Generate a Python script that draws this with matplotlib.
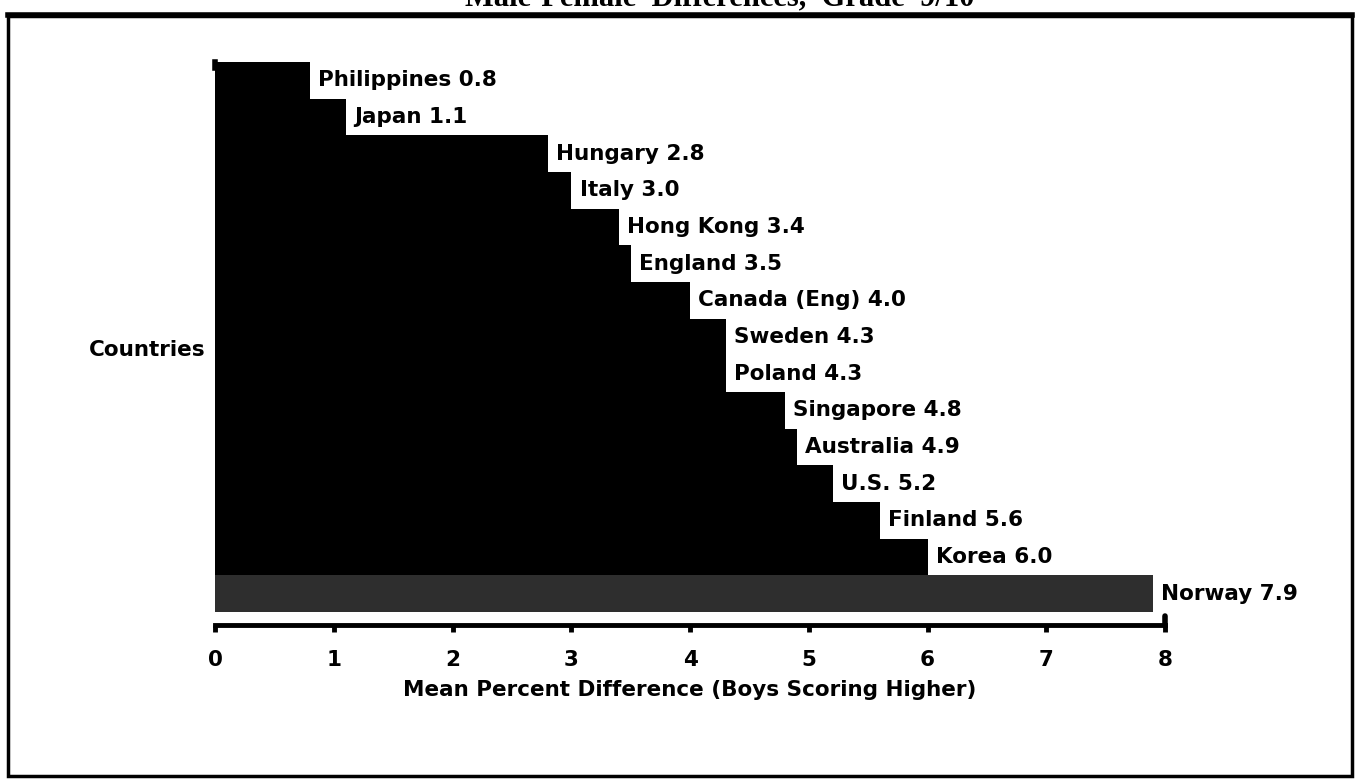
import numpy as np
import matplotlib.pyplot as plt
from matplotlib.patches import Rectangle

# Data
countries = ["Philippines", "Japan", "Hungary", "Italy", "Hong Kong", "England",
             "Canada (Eng)", "Sweden", "Poland", "Singapore", "Australia", "U.S.",
             "Finland", "Korea", "Norway"]
values = [0.8, 1.1, 2.8, 3.0, 3.4, 3.5, 4.0, 4.3, 4.3, 4.8, 4.9, 5.2, 5.6, 6.0, 7.9]
bar_colors = ["black"] * 14 + ["#2e2e2e"]
x_ticks = [0, 1, 2, 3, 4, 5, 6, 7, 8]

W, H = 1359, 782
fig = plt.figure(figsize=(W / 100, H / 100), dpi=100)
fig.patch.set_facecolor("white")

# axes placed in pixel coords: x 0..8 -> 215..1165, y from 62 (top bar) to 625 (axis line)
ax_l, ax_r, ax_t, ax_b = 215, 1165, 62, 625
ax = fig.add_axes([ax_l / W, 1 - ax_b / H, (ax_r - ax_l) / W, (ax_b - ax_t) / H])

n = len(countries)
ypos = np.arange(n)
gap = 13 / ((612 - 62) / n)  # white strip between last bar and axis line
ax.barh(ypos, values, height=1.0, color=bar_colors, edgecolor="none", align="center")
ax.set_ylim(n - 0.5 + gap, -0.5)
ax.set_xlim(0, 8)

lab_font = dict(family="DejaVu Sans", fontweight="bold", fontsize=15.5)
for y, name, v in zip(ypos, countries, values):
    ax.text(v + 0.07, y, f"{name} {v:.1f}", va="center", ha="left", **lab_font)

for s in ["top", "right", "left"]:
    ax.spines[s].set_visible(False)
ax.spines["bottom"].set_linewidth(3.5)
ax.set_yticks([])
ax.set_xticks(x_ticks)
ax.set_xticklabels([str(t) for t in x_ticks], **lab_font)
ax.tick_params(axis="x", length=5, width=3.5, pad=13)
ax.set_xlabel("Mean Percent Difference (Boys Scoring Higher)", labelpad=7, **lab_font)

# end cap on the axis line
ax.plot([8, 8], [n - 0.5 + gap - 0.25, n - 0.5 + gap], color="black", lw=4,
        solid_capstyle="round", clip_on=False)
ax.plot([0, 0], [-0.5, -0.35], color="black", lw=4, clip_on=False)

fig.text(206 / W, 1 - 350 / H, "Countries", ha="right", va="center", **lab_font)

# frame around the page
fig.patches.append(Rectangle((8 / W, 1 - 776 / H), (1352 - 8) / W, (776 - 16) / H,
                             transform=fig.transFigure, fill=False, lw=2.5,
                             edgecolor="black"))
fig.add_artist(plt.Line2D([8 / W, 1352 / W], [1 - 15 / H, 1 - 15 / H],
                          transform=fig.transFigure, color="black", lw=4))

# title, mostly cut off at the top of the scan
fig.text(720 / W, 1 - 5 / H, "Male-Female  Differences,  Grade  9/10", ha="center",
         va="baseline", family="Liberation Serif", fontweight="bold", fontsize=22)

fig.savefig("out.png", dpi=100)
